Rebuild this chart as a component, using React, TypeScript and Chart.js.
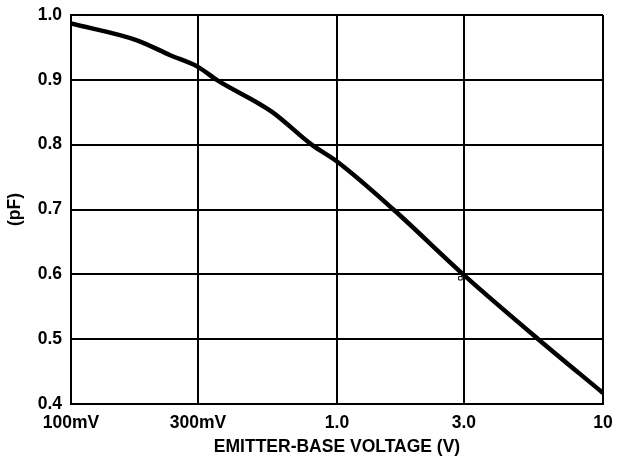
import React, { useEffect, useRef } from "react";
import { Chart, registerables } from "chart.js";

Chart.register(...registerables);

const voltages = [0.1, 0.177, 0.236, 0.3, 0.353, 0.568, 0.803, 1.0, 1.63, 2.98, 5.71, 10];
const capacitance = [0.987, 0.961, 0.938, 0.92, 0.9, 0.851, 0.8, 0.774, 0.7, 0.6, 0.5, 0.417];
const markerX = [2.91];
const markerY = [0.594];
const xTickValues = [0.1, 0.3, 1, 3, 10];
const xTickLabels = ["100mV", "300mV", "1.0", "3.0", "10"];
const yTickValues = [0.4, 0.5, 0.6, 0.7, 0.8, 0.9, 1.0];
const xTitle = "EMITTER-BASE VOLTAGE (V)";
const yTitle = "(pF)";

export default function App() {
  const ref = useRef<HTMLCanvasElement>(null);
  useEffect(() => {
    document.body.style.margin = "0";
    const font = { family: "'Liberation Sans', Arial, sans-serif", size: 17.5, weight: "bold" as const, lineHeight: 1.15 };
    const chart = new Chart(ref.current!, {
      type: "line",
      data: {
        datasets: [
          {
            data: voltages.map((v, i) => ({ x: v, y: capacitance[i] })),
            borderColor: "#000",
            borderWidth: 4.5,
            pointRadius: 0,
            cubicInterpolationMode: "monotone",
            fill: false,
          },
          {
            data: markerX.map((v, i) => ({ x: v, y: markerY[i] })),
            showLine: false,
            pointStyle: "rect",
            pointRadius: 2.5,
            pointBorderWidth: 1,
            pointBorderColor: "#000",
            pointBackgroundColor: "#fff",
          },
        ],
      },
      options: {
        responsive: false,
        animation: false,
        layout: { padding: { left: 0, top: 15, right: 15, bottom: 0 } },
        plugins: { legend: { display: false }, tooltip: { enabled: false } },
        scales: {
          x: {
            type: "logarithmic",
            min: 0.1,
            max: 10,
            afterBuildTicks: (s: any) => {
              s.ticks = xTickValues.map((v) => ({ value: v }));
            },
            afterFit: (s: any) => {
              s.height = 56;
              s.paddingLeft = 0;
              s.paddingRight = 0;
            },
            ticks: {
              autoSkip: false,
              maxRotation: 0,
              color: "#000",
              font,
              padding: 9,
              callback: (v: any) => {
                const i = xTickValues.findIndex((t) => Math.abs(t - Number(v)) < 1e-9);
                return i >= 0 ? xTickLabels[i] : "";
              },
            },
            grid: { color: "#000", lineWidth: 2, drawTicks: false },
            border: { color: "#000", width: 2 },
            title: { display: true, text: xTitle, color: "#000", font, padding: { top: 0, bottom: 3 } },
          },
          y: {
            min: 0.4,
            max: 1.0,
            afterBuildTicks: (s: any) => {
              s.ticks = yTickValues.map((v) => ({ value: v }));
            },
            afterFit: (s: any) => {
              s.width = 71;
              s.paddingTop = 0;
              s.paddingBottom = 0;
            },
            ticks: {
              color: "#000",
              font,
              padding: 9,
              callback: (v: any) => Number(v).toFixed(1),
            },
            grid: { color: "#000", lineWidth: 2, drawTicks: false },
            border: { color: "#000", width: 2 },
            title: { display: true, text: yTitle, color: "#000", font, padding: { top: 5, bottom: 0 } },
          },
        },
      },
    });
    return () => chart.destroy();
  }, []);
  return (
    <div style={{ width: 618, height: 460 }}>
      <canvas ref={ref} width={618} height={460} style={{ display: "block" }} />
    </div>
  );
}
